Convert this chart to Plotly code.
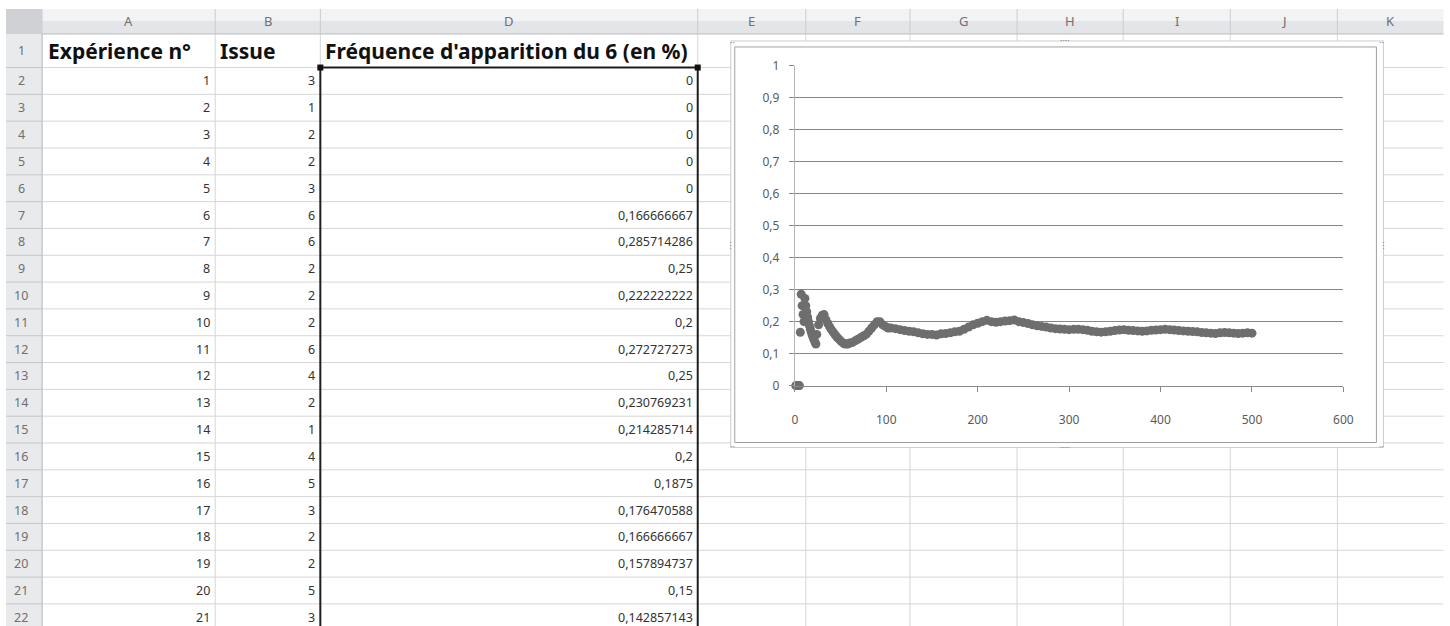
import plotly.graph_objects as go

W, H = 1450, 626

# ---------------- data ----------------
col_letters = ["A", "B", "D", "E", "F", "G", "H", "I", "J", "K"]
header_texts = ["Expérience n°", "Issue", "Fréquence d'apparition du 6 (en %)"]
row_numbers = list(range(1, 23))

exp_table = list(range(1, 22))
issue_table = [3, 1, 2, 2, 3, 6, 6, 2, 2, 2, 6, 4, 2, 1, 4, 5, 3, 2, 2, 5, 3]
freq_table = [0, 0, 0, 0, 0, 0.166666667, 0.285714286, 0.25, 0.222222222, 0.2,
              0.272727273, 0.25, 0.230769231, 0.214285714, 0.2, 0.1875,
              0.176470588, 0.166666667, 0.157894737, 0.15, 0.142857143]

read_x = [22, 23, 24, 26, 28, 30, 32, 34, 36, 38, 40, 42, 44, 46, 48, 50, 52, 54,
          56, 58, 60, 63, 66, 69, 72, 75, 78, 81, 84, 87, 90, 93, 96, 99, 102,
          105, 110, 115, 120, 125, 130, 135, 140, 145, 150, 155, 160, 165, 170,
          175, 180, 185, 190, 195, 200, 205, 210, 215, 220, 225, 230, 235, 240,
          245, 250, 255, 260, 265, 270, 275, 280, 285, 290, 295, 300, 305, 310,
          315, 320, 325, 330, 335, 340, 345, 350, 355, 360, 365, 370, 375, 380,
          385, 390, 395, 400, 405, 410, 415, 420, 425, 430, 435, 440, 445, 450,
          455, 460, 465, 470, 475, 480, 485, 490, 495, 500]
read_y = [0.136, 0.130, 0.160, 0.190, 0.210, 0.220, 0.222, 0.206, 0.194, 0.184,
          0.175, 0.167, 0.159, 0.152, 0.146, 0.140, 0.135, 0.131, 0.130, 0.130,
          0.133, 0.135, 0.140, 0.145, 0.150, 0.155, 0.160, 0.170, 0.180, 0.190,
          0.200, 0.200, 0.190, 0.185, 0.180, 0.180, 0.178, 0.175, 0.172, 0.170,
          0.168, 0.165, 0.162, 0.160, 0.160, 0.158, 0.162, 0.163, 0.165, 0.168,
          0.170, 0.176, 0.183, 0.190, 0.195, 0.200, 0.204, 0.200, 0.198, 0.200,
          0.202, 0.203, 0.205, 0.200, 0.197, 0.194, 0.190, 0.187, 0.185, 0.183,
          0.180, 0.178, 0.177, 0.176, 0.175, 0.176, 0.176, 0.175, 0.173, 0.170,
          0.168, 0.167, 0.168, 0.170, 0.172, 0.174, 0.175, 0.173, 0.172, 0.171,
          0.170, 0.171, 0.173, 0.174, 0.175, 0.176, 0.175, 0.174, 0.172, 0.171,
          0.170, 0.169, 0.168, 0.166, 0.165, 0.164, 0.163, 0.165, 0.166, 0.165,
          0.164, 0.163, 0.164, 0.165, 0.164]

chart_x = exp_table + read_x
chart_y = freq_table + read_y

x_ticks = [0, 100, 200, 300, 400, 500, 600]
y_ticks = [0, 0.1, 0.2, 0.3, 0.4, 0.5, 0.6, 0.7, 0.8, 0.9, 1]

# ---------------- geometry (target pixels of the picture) ----------------
col_edges = [43, 216, 321, 698, 806, 910, 1017, 1123, 1230, 1337, 1443]
HDR_TOP, HDR_BOT = 8, 33
R1_BOT = 66.6
ROW_H = 26.85
RIGHT = 1443

# mapping of figure fraction -> photographed pixel
OFF_X, SPAN_X = 4.0, 1435.5
OFF_Y, SPAN_Y = 8.0, 609.7


def X(px):
    return (px - OFF_X) / SPAN_X


def Y(py):
    return 1 - (py - OFF_Y) / SPAN_Y


def row_top(k):
    if k == 1:
        return HDR_BOT
    return R1_BOT + (k - 2) * ROW_H


def row_mid(k):
    if k == 1:
        return (HDR_BOT + R1_BOT) / 2
    return row_top(k) + ROW_H / 2


def fmt_excel(v):
    s = ("%.9f" % v).rstrip("0").rstrip(".")
    return s.replace(".", ",")


shapes = []
ann = []
BOTTOM = 640


def rect(x0, y0, x1, y1, fill=None, line=None, lw=1):
    shapes.append(dict(type="rect", xref="paper", yref="paper",
                       x0=X(x0), x1=X(x1), y0=Y(y1), y1=Y(y0),
                       fillcolor=fill or "rgba(0,0,0,0)",
                       line=dict(color=line or "rgba(0,0,0,0)", width=lw if line else 0),
                       layer="below"))


def hline(x0, x1, y, color, w=1):
    shapes.append(dict(type="line", xref="paper", yref="paper",
                       x0=X(x0), x1=X(x1), y0=Y(y), y1=Y(y),
                       line=dict(color=color, width=w), layer="below"))


def vline(x, y0, y1, color, w=1):
    shapes.append(dict(type="line", xref="paper", yref="paper",
                       x0=X(x), x1=X(x), y0=Y(y0), y1=Y(y1),
                       line=dict(color=color, width=w), layer="below"))


def text(x, y, t, size=12, color="#333333", anchor="center", bold=False, family="Noto Sans"):
    ann.append(dict(x=X(x), y=Y(y), xref="paper", yref="paper", text=t,
                    showarrow=False, xanchor=anchor, yanchor="middle",
                    font=dict(size=size, color=color, family=family,
                              weight="bold" if bold else "normal")))


# ---- sheet grid ----
GRID = "#d6d6d6"
for k in range(2, 24):
    hline(43, RIGHT, row_top(k), GRID)
for e in col_edges[:-1]:
    vline(e, HDR_BOT, BOTTOM, GRID)

# column header band
rect(7, HDR_TOP, RIGHT, 20, fill="#f2f3f4")
rect(7, 20, RIGHT, HDR_BOT, fill="#e3e5e8")
hline(7, RIGHT, HDR_BOT, "#b9bcc0")
for e in col_edges[:-1]:
    vline(e, HDR_TOP, HDR_BOT, "#c9ccd0")
# top-left corner
rect(7, HDR_TOP, 43, HDR_BOT, fill="#cfd1d4")
# row header column
rect(7, HDR_BOT, 43, BOTTOM, fill="#e9eaec")
vline(43, HDR_BOT, BOTTOM, "#b9bcc0")
for k in range(2, 24):
    hline(7, 43, row_top(k), "#c4c6c9")

# column letters
for i, letter in enumerate(col_letters):
    cx = (col_edges[i] + col_edges[i + 1]) / 2
    text(cx, 20, letter, size=13, color="#707070")

# row numbers
for k in row_numbers:
    text(22, row_mid(k), str(k), size=12.5, color="#6f6f6f")

# headers row 1
text(47, row_mid(1), header_texts[0], size=21, color="#111111", anchor="left", bold=True)
text(219, row_mid(1), header_texts[1], size=21, color="#111111", anchor="left", bold=True)
text(324, row_mid(1), header_texts[2], size=21, color="#111111", anchor="left", bold=True)

# cells
for i in range(len(exp_table)):
    k = i + 2
    text(213, row_mid(k), str(exp_table[i]), size=12.5, anchor="right")
    text(318, row_mid(k), str(issue_table[i]), size=12.5, anchor="right")
    text(695, row_mid(k), fmt_excel(freq_table[i]), size=12.5, anchor="right")

# selection border on column D
vline(321, R1_BOT, BOTTOM, "#1e1e1e", 2)
vline(698, R1_BOT, BOTTOM, "#1e1e1e", 2)
hline(321, 698, R1_BOT, "#1e1e1e", 2)
rect(318, R1_BOT - 3, 324, R1_BOT + 3, fill="#111111")
rect(695, R1_BOT - 3, 701, R1_BOT + 3, fill="#111111")

# ---- chart object ----
rect(731, 40, 1383, 447, fill="#ffffff", line="#cdcdcd")
rect(735, 46, 1376, 442, fill="#ffffff", line="#a0a0a0")
for (hx, hy, t) in [(1065, 40, "····"), (1065, 447, "····"),
                    (731, 245, "⋮"), (1383, 245, "⋮"),
                    (733, 42, "··"), (1381, 42, "··"), (733, 446, "··"), (1381, 446, "··")]:
    text(hx, hy, t, size=9, color="#8a8a8a")

fig = go.Figure()
fig.add_trace(go.Scatter(
    x=chart_x, y=chart_y, mode="markers",
    marker=dict(size=9, color="#6e6e6e", line=dict(width=0)),
    cliponaxis=False, showlegend=False, hoverinfo="skip"))

fig.update_layout(
    width=W, height=H, autosize=False,
    margin=dict(l=0, r=0, t=0, b=0, pad=0),
    paper_bgcolor="#ffffff", plot_bgcolor="rgba(0,0,0,0)",
    separators=", ",
    shapes=shapes, annotations=ann,
    xaxis=dict(domain=[X(795), X(1343)], range=[0, 600], tickvals=x_ticks,
               showgrid=False, zeroline=False, showline=True, linecolor="#8a8a8a",
               linewidth=1, ticks="outside", ticklen=5, tickcolor="#8a8a8a",
               tickfont=dict(size=12, color="#5a5a5a", family="Noto Sans"),
               ticklabelstandoff=18, fixedrange=True),
    yaxis=dict(domain=[Y(385), Y(65)], range=[0, 1], tickvals=y_ticks,
               showgrid=True, gridcolor="#868686", gridwidth=1.2, zeroline=False,
               showline=True, linecolor="#b5b5b5", linewidth=1,
               ticks="outside", ticklen=5, tickcolor="#8a8a8a",
               tickfont=dict(size=12, color="#5a5a5a", family="Noto Sans"),
               ticklabelstandoff=7, fixedrange=True),
)

fig.write_html("out.html", config={"displayModeBar": False},
               post_script="document.body.style.margin='0';"
                           "document.documentElement.style.overflow='hidden';")
